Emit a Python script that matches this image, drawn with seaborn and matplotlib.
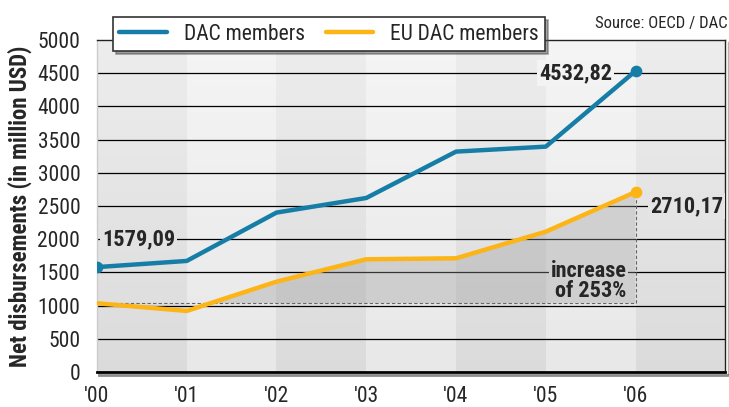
import numpy as np
import pandas as pd
import matplotlib
matplotlib.use("Agg")
from matplotlib import pyplot as plt
import matplotlib.patheffects as pe
import seaborn as sns

# values
years = ["'00", "'01", "'02", "'03", "'04", "'05", "'06"]
dac = [1579.09, 1672, 2400, 2620, 3318, 3393, 4532.82]
eu_dac = [1035, 919, 1360, 1697, 1712, 2113, 2710.17]
yticks = [0, 500, 1000, 1500, 2000, 2500, 3000, 3500, 4000, 4500, 5000]

blue = "#167ea6"
orange = "#fdb416"

sns.set_style("white")
plt.rcParams['font.family'] = ['Roboto Condensed', 'Archivo Narrow', 'PT Sans Narrow',
                               'Liberation Sans Narrow', 'DejaVu Sans']

df = pd.DataFrame({"x": range(len(years)), "DAC members": dac, "EU DAC members": eu_dac})

fig = plt.figure(figsize=(7.29, 4.07), dpi=100)
ax = fig.add_axes([0.133, 0.086, 0.862, 0.816])

# alternating vertical gradient bands
for i in range(7):
    if i % 2 == 0:
        top, bot = 0.93, 0.86
    else:
        top, bot = 0.96, 0.91
    grad = np.linspace(top, bot, 100).reshape(-1, 1)
    ax.imshow(np.repeat(grad[:, :, None], 3, axis=2), extent=[i, i + 1, 0, 5000],
              aspect="auto", origin="upper", zorder=0)
ax.set_xlim(0, 7)
ax.set_ylim(0, 5000)

for y in yticks[1:-1]:
    ax.axhline(y, color="black", lw=0.9, zorder=1)

# shaded increase area
xs = np.array(df["x"], dtype=float)
base = eu_dac[0]
ax.fill_between(xs, base, df["EU DAC members"], where=df["EU DAC members"] >= base,
                interpolate=True, color="#9a9a9a", alpha=0.35, lw=0, zorder=2)
ax.plot([0, 6], [base, base], ls=(0, (3, 2)), color="#666666", lw=0.8, zorder=2)
ax.plot([6, 6], [base, eu_dac[-1]], ls=(0, (3, 2)), color="#666666", lw=0.8, zorder=2)

sns.lineplot(data=df, x="x", y="DAC members", color=blue, lw=3.2, ax=ax, zorder=4,
             label="DAC members")
sns.lineplot(data=df, x="x", y="EU DAC members", color=orange, lw=3.2, ax=ax, zorder=4,
             label="EU DAC members")
ax.scatter([0, 6], [dac[0], dac[-1]], s=55, color=blue, zorder=5)
ax.scatter([6], [eu_dac[-1]], s=55, color=orange, zorder=5)

# value labels
lab = dict(fontsize=16, fontweight="bold", zorder=6, va="center")
ax.text(0.055, 2000, "1579,09", ha="left",
        bbox=dict(facecolor="#e2e2e2", edgecolor="none", pad=1.5), **lab)
ax.text(5.735, 4500, "4532,82", ha="right",
        bbox=dict(facecolor="#f3f3f3", edgecolor="none", pad=1.5), **lab)
ax.text(6.16, 2500, "2710,17", ha="left",
        bbox=dict(facecolor="#e4e4e4", edgecolor="none", pad=1.5), **lab)
ax.text(5.9, 1370, "increase\nof 253%", ha="right", linespacing=0.9,
        bbox=dict(facecolor="#cfcfcf", edgecolor="none", pad=1.0), **lab)

ax.set_xticks(range(len(years)))
ax.set_xticklabels(years, fontsize=15.5)
ax.set_yticks(yticks)
ax.set_yticklabels([str(v) for v in yticks], fontsize=15.5)
ax.tick_params(axis="x", length=0, pad=10)
ax.tick_params(axis="y", length=0, pad=12)
ax.set_xlabel("")
ax.set_ylabel("Net disbursements (in million USD)", fontsize=16.5, fontweight="bold", labelpad=4)

for s in ["top", "right"]:
    ax.spines[s].set_color("#222222")
    ax.spines[s].set_linewidth(1.0)
ax.spines["left"].set_color("#cccccc")
ax.spines["left"].set_linewidth(1.0)
ax.spines["bottom"].set_color("black")
ax.spines["bottom"].set_linewidth(2.0)
ax.spines["bottom"].set_path_effects([pe.SimpleLineShadow(offset=(1.5, -2.5), alpha=0.45), pe.Normal()])
ax.spines["right"].set_path_effects([pe.SimpleLineShadow(offset=(2, -1.5), alpha=0.3), pe.Normal()])

leg = ax.legend(loc="upper left", bbox_to_anchor=(0.155, 0.872, 0.593, 0.086),
                bbox_transform=fig.transFigure, mode="expand", ncol=2, fontsize=15.5,
                frameon=True, fancybox=False, shadow=True, handlelength=2.2,
                handletextpad=0.8, borderpad=0.3, columnspacing=1.5, borderaxespad=0)
leg.get_frame().set_edgecolor("#333333")
leg.get_frame().set_linewidth(1.2)
leg.set_zorder(10)

fig.text(0.998, 0.943, "Source: OECD / DAC", ha="right", va="center", fontsize=12)

fig.savefig("out.png", dpi=100)
